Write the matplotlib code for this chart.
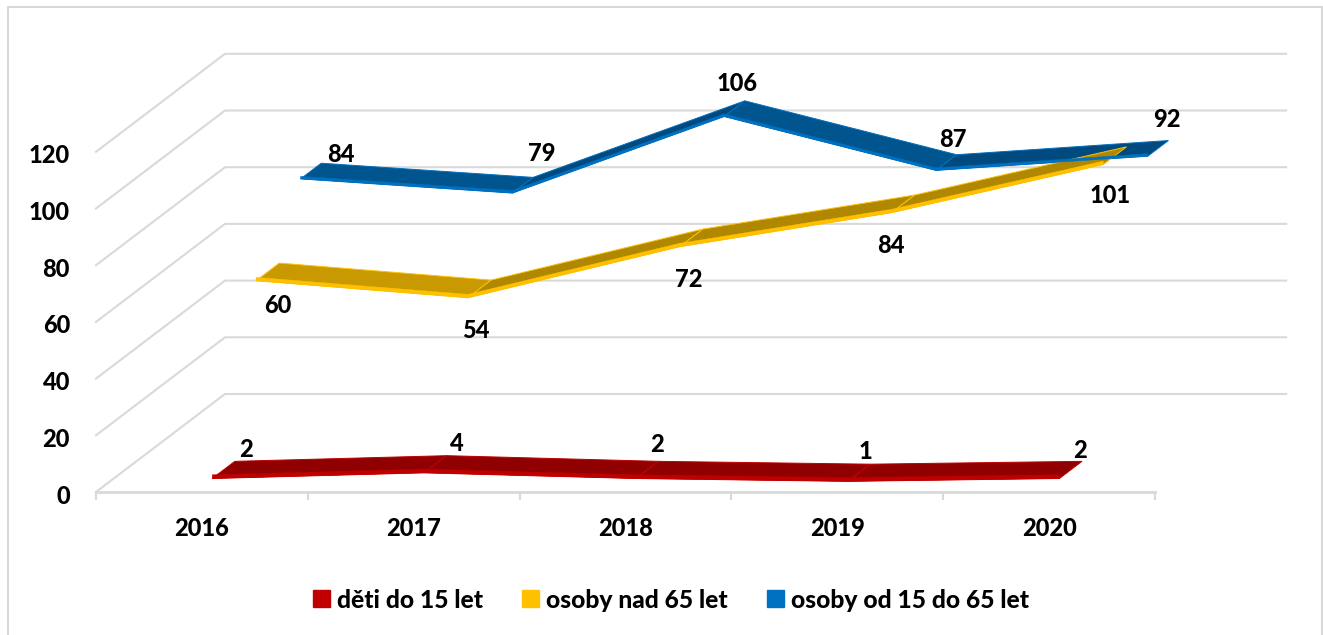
import numpy as np
import matplotlib
matplotlib.use('Agg')
import matplotlib.pyplot as plt
from matplotlib.patches import Patch, Rectangle

plt.rcParams['font.family'] = ['Lato', 'DejaVu Sans']

years = ['2016', '2017', '2018', '2019', '2020']
yticks = [0, 20, 40, 60, 80, 100, 120]
names = ['děti do 15 let', 'osoby nad 65 let', 'osoby od 15 do 65 let']
deti = [2, 4, 2, 1, 2]
nad65 = [60, 54, 72, 84, 101]
od15 = [84, 79, 106, 87, 92]

W, H = 1323, 635
PX_X = 211.8 # pixels per category
PX_Y = 2.835 # pixels per unit
X0, Y0 = 96, 492
DX = 129/PX_X # depth vector in data units
DY = 98/PX_Y
FS = 17
WT = 900
GREY = '#D9D9D9'

fig = plt.figure(figsize=(W/100, H/100), dpi=100)
ax = fig.add_axes([0, 0, 1, 1])
ax.set_xlim(-X0/PX_X, (W-X0)/PX_X)
ax.set_ylim(-(H-Y0)/PX_Y, Y0/PX_Y)
ax.axis('off')

fig.patches.append(Rectangle((8/W, -0.1), (1322-8)/W, 1.1-7/H, transform=fig.transFigure, fill=False, ec=GREY, lw=1.5))


def proj(x, v, d):
	return x+d*DX, v+d*DY


# walls and floor
for v in yticks:
	x1, y1 = proj(5.01, v, 1)
	x0, y0 = proj(0, v, 1)
	ax.plot([0, x0, x1], [v, y0, y1], color=GREY, lw=1.5, solid_joinstyle='miter')
	ax.annotate(str(v), (0, v), xytext=(-26, -4), textcoords='offset pixels', ha='right', va='center', fontsize=FS, fontweight=WT)
ax.plot([0, 5], [0, 0], color=GREY, lw=2)
for i in range(6):
	ax.plot([i, i], [0, -7/PX_Y], color=GREY, lw=1.5)
for i, yr in enumerate(years):
	ax.text(i+0.5, -37/PX_Y, yr, ha='center', va='center', fontsize=FS, fontweight=WT)


def ribbon(vals, d0, d1, front, top_down, top_up, thick, offs):
	xs = np.arange(len(vals))+0.5
	for i in range(len(vals)-1):
		xa, xb = xs[i], xs[i+1]
		va, vb = vals[i], vals[i+1]
		face = top_up if vb > va else top_down
		p = [proj(xa, va, d0), proj(xb, vb, d0), proj(xb, vb, d1), proj(xa, va, d1)]
		ax.fill([q[0] for q in p], [q[1] for q in p], facecolor=face, lw=0.7, edgecolor=front, zorder=3)
		q0 = proj(xa, va, d0)
		q1 = proj(xb, vb, d0)
		ax.fill([q0[0], q1[0], q1[0], q0[0]], [q0[1], q1[1], q1[1]+thick, q0[1]+thick], color=front, lw=0.3, ec=front, zorder=4)
	dm = (d0+d1)/2
	for x, v, o in zip(xs, vals, offs):
		ax.annotate(str(v), proj(x, v, dm), xytext=(o[0], o[1]-2), textcoords='offset pixels', ha='center', va='center', fontsize=FS, fontweight=WT, zorder=6)


ribbon(od15, 0.765, 0.925, '#0070C0', '#00558F', '#004A80', 0.9,
	[(30, 19), (19, 34), (3, 27), (7, 25), (9, 31)])
ribbon(nad65, 0.42, 0.60, '#FFC000', '#C89900', '#B08700', 1.2,
	[(10, -32), (-4, -40), (-3, -40), (-12, -40), (-5, -38)])
ribbon(deti, 0.08, 0.255, '#C00000', '#900000', '#900000', 1.3,
	[(22, 22), (22, 23), (10, 27), (7, 23), (9, 21)])

handles = [Patch(color=c) for c in ['#C00000', '#FFC000', '#0070C0']]
ax.legend(handles, names, loc='center', bbox_to_anchor=(671/W, 1-600/H), bbox_transform=fig.transFigure, ncol=3,
	frameon=False, prop={'size': 17.7, 'weight': WT}, handlelength=0.68, handleheight=0.68, handletextpad=0.28, columnspacing=1.6)

fig.savefig('out.png', dpi=100)
